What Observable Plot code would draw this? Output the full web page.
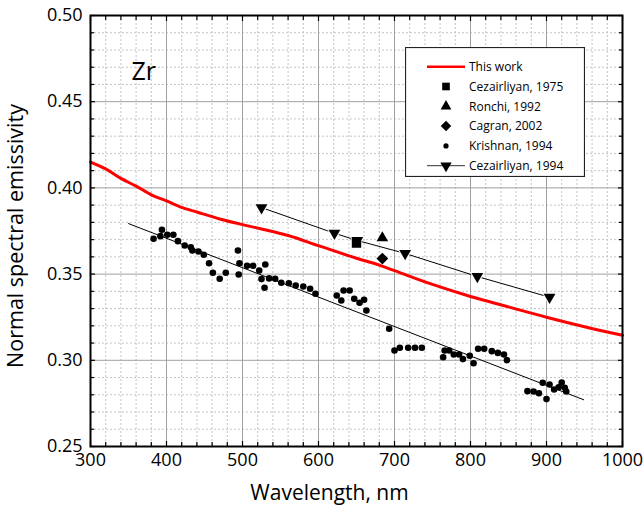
<!DOCTYPE html>
<html>
<head>
<meta charset="utf-8">
<script src="https://cdn.jsdelivr.net/npm/d3@7"></script>
<script src="https://cdn.jsdelivr.net/npm/@observablehq/plot@0.6"></script>
<style>
  html, body { margin: 0; padding: 0; background: #fff; }
  #wrap { position: relative; width: 643px; height: 510px; font-family: "Open Sans", sans-serif; }
  #legend { position: absolute; left: 405px; top: 47px; }
</style>
</head>
<body>
<div id="wrap"><div id="chart"></div><div id="legend"></div></div>
<script>
// ---- data ----
const thisWorkX = [300, 320, 340, 360, 380, 400, 420, 440, 470, 500, 525, 560, 600, 650, 680, 700, 750, 800, 850, 900, 950, 1000];
const thisWorkY = [0.415, 0.411, 0.4055, 0.401, 0.396, 0.3925, 0.3887, 0.386, 0.382, 0.3787, 0.3762, 0.3724, 0.3665, 0.3592, 0.3552, 0.352, 0.344, 0.337, 0.331, 0.325, 0.3195, 0.3145];

const cez1975X = [650];
const cez1975Y = [0.368];
const ronchiX = [684];
const ronchiY = [0.371];
const cagranX = [684];
const cagranY = [0.359];

const cez1994X = [525, 621, 651, 714, 809, 904];
const cez1994Y = [0.3886, 0.3737, 0.3695, 0.362, 0.3486, 0.3366];

const krishnanX = [383, 392, 394, 401, 409, 415, 424, 432, 434, 442, 449, 456, 461, 470, 478, 494, 496, 495, 506, 514, 522, 530, 525, 529, 535, 543, 551, 561, 570, 580, 589, 596, 624, 630, 633, 641, 647, 654, 660, 663, 693, 700, 707, 718, 727, 736, 764, 766, 772, 778, 785, 790, 799, 804, 810, 818, 828, 836, 844, 848, 875, 883, 890, 895, 900, 904, 910, 916, 920, 924, 926];
const krishnanY = [0.3705, 0.372, 0.3757, 0.3728, 0.3728, 0.3691, 0.3666, 0.3656, 0.3637, 0.3631, 0.3612, 0.3563, 0.3508, 0.3473, 0.3508, 0.3637, 0.3563, 0.3498, 0.3548, 0.3548, 0.3521, 0.3556, 0.3471, 0.3421, 0.3475, 0.3473, 0.345, 0.3447, 0.3434, 0.3428, 0.3415, 0.3386, 0.3376, 0.3347, 0.3405, 0.3405, 0.3357, 0.3334, 0.3351, 0.3289, 0.3183, 0.3057, 0.3073, 0.3073, 0.3073, 0.3073, 0.3018, 0.3057, 0.3057, 0.3034, 0.3034, 0.3007, 0.3026, 0.2983, 0.3067, 0.3067, 0.3053, 0.3043, 0.3034, 0.3001, 0.2821, 0.2819, 0.2809, 0.287, 0.2775, 0.286, 0.2831, 0.2844, 0.2871, 0.2841, 0.2819];

const krishnanFitX = [350, 949];
const krishnanFitY = [0.3793, 0.2771];

const xMajor = [300, 400, 500, 600, 700, 800, 900, 1000];
const xMinor = [320, 340, 360, 380, 420, 440, 460, 480, 520, 540, 560, 580, 620, 640, 660, 680, 720, 740, 760, 780, 820, 840, 860, 880, 920, 940, 960, 980];
const yMajor = [0.25, 0.30, 0.35, 0.40, 0.45, 0.50];
const yMinor = [0.26, 0.27, 0.28, 0.29, 0.31, 0.32, 0.33, 0.34, 0.36, 0.37, 0.38, 0.39, 0.41, 0.42, 0.43, 0.44, 0.46, 0.47, 0.48, 0.49];

const legendLabels = ["This work", "Cezairliyan, 1975", "Ronchi, 1992", "Cagran, 2002", "Krishnan, 1994", "Cezairliyan, 1994"];

// ---- tables ----
const zip = (xs, ys) => xs.map((x, i) => ({x, y: ys[i]}));
const thisWork = zip(thisWorkX, thisWorkY);
const cez1975 = zip(cez1975X, cez1975Y);
const ronchi = zip(ronchiX, ronchiY);
const cagran = zip(cagranX, cagranY);
const cez1994 = zip(cez1994X, cez1994Y);
const krishnan = zip(krishnanX, krishnanY);
const krishnanFit = zip(krishnanFitX, krishnanFitY);

const blank = () => "";

const chart = Plot.plot({
  width: 643,
  height: 510,
  marginLeft: 90,
  marginRight: 21,
  marginTop: 15,
  marginBottom: 64,
  style: {fontFamily: "'Open Sans', sans-serif", fontSize: "18px", color: "black", background: "white", overflow: "visible"},
  x: {domain: [300, 1000]},
  y: {domain: [0.25, 0.5]},
  marks: [
    Plot.gridX(xMinor, {stroke: "#c4c4c4", strokeOpacity: 1, strokeDasharray: "2,2"}),
    Plot.gridY(yMinor, {stroke: "#c4c4c4", strokeOpacity: 1, strokeDasharray: "2,2"}),
    Plot.gridX(xMajor, {stroke: "#a0a0a0", strokeOpacity: 1}),
    Plot.gridY(yMajor, {stroke: "#a0a0a0", strokeOpacity: 1}),
    Plot.line(krishnanFit, {x: "x", y: "y", stroke: "black", strokeWidth: 1}),
    Plot.line(cez1994, {x: "x", y: "y", stroke: "black", strokeWidth: 1}),
    Plot.line(thisWork, {x: "x", y: "y", stroke: "#ff0000", strokeWidth: 3, curve: "monotone-x"}),
    Plot.dot(krishnan, {x: "x", y: "y", r: 3.3, fill: "black", symbol: "circle"}),
    Plot.dot(cez1994, {x: "x", y: "y", r: 4.4, fill: "black", stroke: "white", strokeWidth: 2, paintOrder: "stroke", symbol: "triangle", rotate: 180}),
    Plot.dot(cez1975, {x: "x", y: "y", r: 5.3, fill: "black", symbol: "square"}),
    Plot.dot(ronchi, {x: "x", y: "y", r: 4.3, fill: "black", symbol: "triangle"}),
    Plot.dot(cagran, {x: "x", y: "y", r: 4.7, fill: "black", symbol: "square", rotate: 45}),
    Plot.text(["Zr"], {frameAnchor: "top-left", dx: 41, dy: 47, fontSize: 25, fill: "black"}),
    // axes with inward ticks
    Plot.axisX(xMajor, {anchor: "bottom", tickSize: -5, tickPadding: 12, tickFormat: d3.format("d"), stroke: "black", strokeWidth: 1.2, label: null, fontSize: 18}),
    Plot.axisX(xMinor, {anchor: "bottom", tickSize: -4, tickFormat: blank, stroke: "black", strokeWidth: 1.2, label: null}),
    Plot.axisX(xMajor, {anchor: "top", tickSize: -5, tickFormat: blank, stroke: "black", strokeWidth: 1.2, label: null}),
    Plot.axisX(xMinor, {anchor: "top", tickSize: -4, tickFormat: blank, stroke: "black", strokeWidth: 1.2, label: null}),
    Plot.axisY(yMajor, {anchor: "left", tickSize: -5, tickPadding: 13, tickFormat: d3.format(".2f"), stroke: "black", strokeWidth: 1.2, label: null, fontSize: 18}),
    Plot.axisY(yMinor, {anchor: "left", tickSize: -4, tickFormat: blank, stroke: "black", strokeWidth: 1.2, label: null}),
    Plot.axisY(yMajor, {anchor: "right", tickSize: -5, tickFormat: blank, stroke: "black", strokeWidth: 1.2, label: null}),
    Plot.axisY(yMinor, {anchor: "right", tickSize: -4, tickFormat: blank, stroke: "black", strokeWidth: 1.2, label: null}),
    Plot.frame({stroke: "black", strokeWidth: 2}),
    Plot.text(["Wavelength, nm"], {frameAnchor: "bottom", dx: -27, dy: 47, fontSize: 21, fill: "black", lineAnchor: "middle"}),
    Plot.text(["Normal spectral emissivity"], {frameAnchor: "left", dx: -74, dy: 5, rotate: -90, textAnchor: "middle", fontSize: 21.5, fill: "black", lineAnchor: "middle"})
  ]
});
document.getElementById("chart").appendChild(chart);

// ---- legend (drawn as an overlay box inside the plot area) ----
const lw = 180, lh = 130;
const leg = d3.select("#legend").append("svg")
  .attr("width", lw).attr("height", lh)
  .style("font-family", "'Open Sans', sans-serif").style("font-size", "12px");
leg.append("rect").attr("x", 0.5).attr("y", 0.5).attr("width", lw - 1).attr("height", lh - 1)
  .attr("fill", "white").attr("stroke", "#222").attr("stroke-width", 1.2);
const symX = 41, textX = 64, row0 = 19.7, rowH = 19.8;
const sym = (type, r) => d3.symbol(type, Math.PI * r * r)();
legendLabels.forEach((lab, i) => {
  const cy = row0 + i * rowH;
  const g = leg.append("g").attr("transform", `translate(${symX},${cy})`);
  if (i === 0) {
    g.append("line").attr("x1", -19).attr("x2", 19).attr("stroke", "#ff0000").attr("stroke-width", 2.5);
  } else if (i === 1) {
    g.append("path").attr("d", sym(d3.symbolSquare, 4.3)).attr("fill", "black");
  } else if (i === 2) {
    g.append("path").attr("d", sym(d3.symbolTriangle, 4)).attr("fill", "black");
  } else if (i === 3) {
    g.append("path").attr("d", sym(d3.symbolSquare, 4.2)).attr("transform", "rotate(45)").attr("fill", "black");
  } else if (i === 4) {
    g.append("circle").attr("r", 2.6).attr("fill", "black");
  } else {
    g.append("line").attr("x1", -19).attr("x2", 19).attr("stroke", "#333").attr("stroke-width", 1);
    g.append("path").attr("d", sym(d3.symbolTriangle, 4.2)).attr("transform", "rotate(180)").attr("fill", "black");
  }
  leg.append("text").attr("x", textX).attr("y", cy).attr("dy", "0.35em").attr("fill", "black").text(lab);
});
</script>
</body>
</html>
